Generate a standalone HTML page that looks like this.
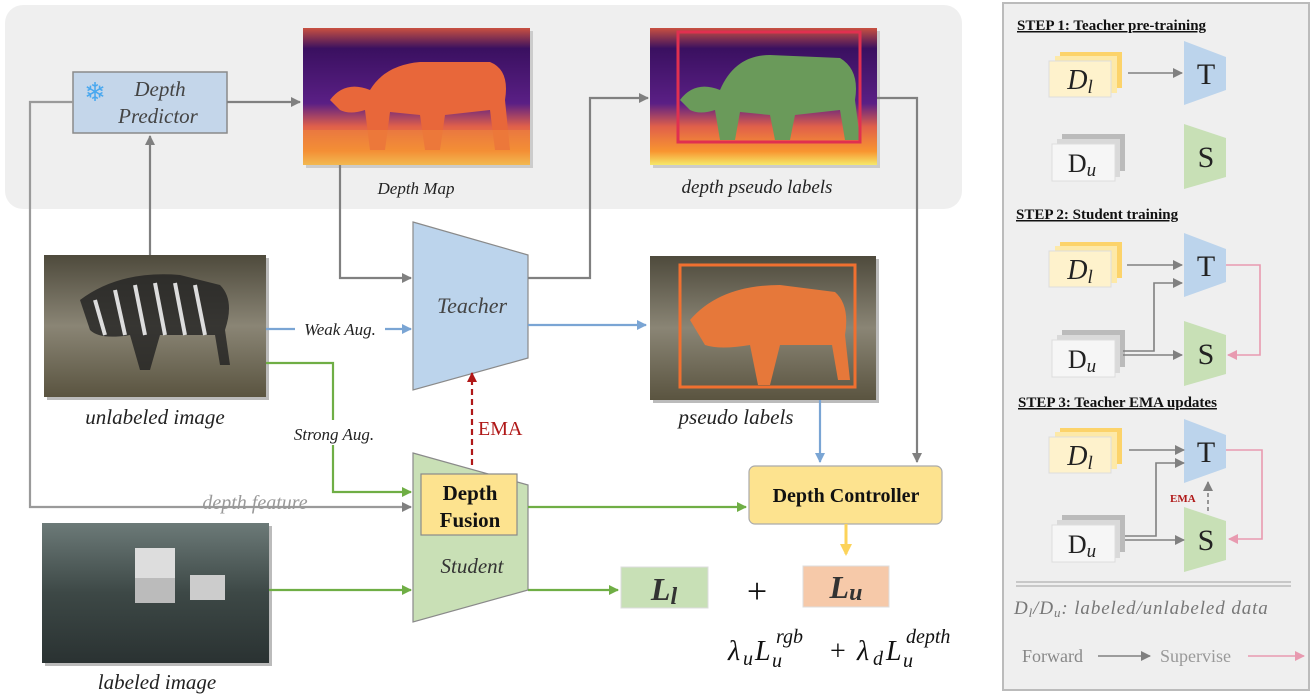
<!DOCTYPE html>
<html><head><meta charset="utf-8"><style>html,body{margin:0;padding:0;background:#fff}svg{display:block}</style></head><body>
<svg width="1316" height="697" viewBox="0 0 1316 697" xmlns="http://www.w3.org/2000/svg" font-family="Liberation Serif, serif">
<defs>
<marker id="ag" markerWidth="10" markerHeight="10" refX="9" refY="5" orient="auto" markerUnits="userSpaceOnUse"><path d="M0,0 L10,5 L0,10z" fill="#808080"/></marker>
<marker id="ab" markerWidth="10" markerHeight="10" refX="9" refY="5" orient="auto" markerUnits="userSpaceOnUse"><path d="M0,0 L10,5 L0,10z" fill="#7aa5d4"/></marker>
<marker id="agr" markerWidth="10" markerHeight="10" refX="9" refY="5" orient="auto" markerUnits="userSpaceOnUse"><path d="M0,0 L10,5 L0,10z" fill="#6fae45"/></marker>
<marker id="ar" markerWidth="10" markerHeight="10" refX="9" refY="5" orient="auto" markerUnits="userSpaceOnUse"><path d="M0,0 L10,5 L0,10z" fill="#b01818"/></marker>
<marker id="ay" markerWidth="12" markerHeight="12" refX="10" refY="6" orient="auto" markerUnits="userSpaceOnUse"><path d="M0,0 L12,6 L0,12z" fill="#fcd35a"/></marker>
<marker id="ap" markerWidth="10" markerHeight="10" refX="9" refY="5" orient="auto" markerUnits="userSpaceOnUse"><path d="M0,0 L10,5 L0,10z" fill="#e89ab0"/></marker>
<linearGradient id="dm" x1="0" y1="0" x2="0" y2="1"><stop offset="0" stop-color="#c85040"/><stop offset="0.15" stop-color="#3a1060"/><stop offset="0.55" stop-color="#5a1f85"/><stop offset="0.72" stop-color="#e0604a"/><stop offset="0.9" stop-color="#f89530"/><stop offset="1" stop-color="#f5e86a"/></linearGradient>
<linearGradient id="zb" x1="0" y1="0" x2="0" y2="1"><stop offset="0" stop-color="#4e4a3c"/><stop offset="0.5" stop-color="#8a8575"/><stop offset="1" stop-color="#5a5440"/></linearGradient>
<linearGradient id="ct" x1="0" y1="0" x2="0" y2="1"><stop offset="0" stop-color="#6c7a78"/><stop offset="0.5" stop-color="#3d4846"/><stop offset="1" stop-color="#2a3232"/></linearGradient>
</defs>
<rect x="5" y="5" width="957" height="204" rx="18" fill="#efefef"/>
<rect x="73" y="72" width="154" height="61" fill="#c4d6ea" stroke="#8a8a8a" stroke-width="1.5"/>
<text x="95" y="101" font-size="26" fill="#4aa8ef" text-anchor="middle">❄</text>
<text x="160" y="96" font-size="21" font-style="italic" fill="#444" text-anchor="middle">Depth</text>
<text x="158" y="123" font-size="21" font-style="italic" fill="#444" text-anchor="middle">Predictor</text>
<rect x="306" y="31" width="227" height="137" fill="#ccc"/>
<rect x="303" y="28" width="227" height="137" fill="url(#dm)"/>
<path d="M330,100 Q345,80 370,90 Q385,65 420,62 L490,62 Q510,70 505,100 L510,150 L495,150 L490,110 L445,115 L440,150 L425,150 L420,115 L390,112 L385,150 L370,150 L365,110 Q350,115 340,110z" fill="#e8673a"/>
<rect x="303" y="130" width="227" height="35" fill="#f08a3a" opacity="0.5"/>
<text x="416" y="194" font-size="17" font-style="italic" fill="#222" text-anchor="middle">Depth Map</text>
<rect x="653" y="31" width="227" height="137" fill="#ccc"/>
<rect x="650" y="28" width="227" height="137" fill="url(#dm)"/>
<path d="M680,100 Q695,80 720,90 Q735,55 770,55 L840,58 Q860,70 855,100 L860,140 L845,140 L840,110 L795,115 L790,140 L775,140 L770,115 L740,112 L735,140 L720,140 L715,110 Q700,115 690,110z" fill="#6a9a5a"/>
<rect x="678" y="32" width="182" height="110" fill="none" stroke="#e03050" stroke-width="3"/>
<text x="757" y="193" font-size="19" font-style="italic" fill="#222" text-anchor="middle">depth pseudo labels</text>
<polygon points="413,222 528,255 528,358 413,390" fill="#bcd4ec" stroke="#8a8a8a" stroke-width="1.2"/>
<text x="472" y="313" font-size="22" font-style="italic" fill="#444" text-anchor="middle">Teacher</text>
<rect x="47" y="258" width="222" height="142" fill="#bbb"/>
<rect x="44" y="255" width="222" height="142" fill="url(#zb)"/>
<path d="M80,300 Q120,270 180,275 L220,285 Q235,300 225,330 L230,365 L220,365 L215,335 L160,335 L150,370 L140,370 L130,335 Q100,340 90,330z" fill="#222" opacity="0.8"/>
<path d="M95,300 L105,335 M115,290 L125,335 M135,285 L145,335 M155,283 L165,335 M175,283 L185,335 M195,285 L205,335" stroke="#ddd" stroke-width="4"/>
<text x="155" y="424" font-size="21" font-style="italic" fill="#222" text-anchor="middle">unlabeled image</text>
<rect x="653" y="259" width="226" height="144" fill="#bbb"/>
<rect x="650" y="256" width="226" height="144" fill="url(#zb)"/>
<path d="M690,320 Q720,285 780,285 L835,292 Q850,305 845,335 L850,380 L838,380 L832,345 L780,345 L770,385 L758,385 L750,345 Q720,350 705,345z" fill="#e6783a"/>
<rect x="680" y="265" width="175" height="122" fill="none" stroke="#f07030" stroke-width="3"/>
<text x="736" y="424" font-size="21" font-style="italic" fill="#222" text-anchor="middle">pseudo labels</text>
<polygon points="413,453 528,485 528,590 413,622" fill="#c9e0b6" stroke="#8a8a8a" stroke-width="1.2"/>
<rect x="421" y="474" width="96" height="61" fill="#fde38f" stroke="#8a8a8a" stroke-width="1.2"/>
<text x="470" y="500" font-size="21" font-weight="bold" fill="#111" text-anchor="middle">Depth</text>
<text x="470" y="527" font-size="21" font-weight="bold" fill="#111" text-anchor="middle">Fusion</text>
<text x="472" y="573" font-size="21" font-style="italic" fill="#333" text-anchor="middle">Student</text>
<rect x="45" y="526" width="227" height="140" fill="#bbb"/>
<rect x="42" y="523" width="227" height="140" fill="url(#ct)"/>
<rect x="135" y="548" width="40" height="30" fill="#ddd"/>
<rect x="135" y="578" width="40" height="25" fill="#bbb"/>
<rect x="190" y="575" width="35" height="25" fill="#ccc"/>
<text x="157" y="689" font-size="21" font-style="italic" fill="#222" text-anchor="middle">labeled image</text>
<rect x="749" y="466" width="193" height="58" rx="6" fill="#fde38f" stroke="#aaa" stroke-width="1.2"/>
<text x="846" y="502" font-size="20" font-weight="bold" fill="#111" text-anchor="middle">Depth Controller</text>
<rect x="621" y="567" width="87" height="41" fill="#c8e0b6" stroke="#ddd"/>
<text x="664" y="600" font-size="32" font-weight="bold" font-style="italic" fill="#333" text-anchor="middle">L<tspan font-size="24" dy="4">l</tspan></text>
<rect x="803" y="566" width="86" height="41" fill="#f6c9a9" stroke="#ddd"/>
<text x="846" y="598" font-size="32" font-weight="bold" font-style="italic" fill="#333" text-anchor="middle">L<tspan font-size="24" dy="2">u</tspan></text>
<text x="757" y="603" font-size="36" fill="#111" text-anchor="middle">+</text>
<g font-style="italic" fill="#111">
<text x="728" y="660" font-size="28">λ</text>
<text x="743" y="665" font-size="20">u</text>
<text x="755" y="660" font-size="28">L</text>
<text x="772" y="667" font-size="20">u</text>
<text x="776" y="643" font-size="20">rgb</text>
<text x="830" y="660" font-size="28" font-style="normal">+</text>
<text x="857" y="660" font-size="28">λ</text>
<text x="873" y="665" font-size="20">d</text>
<text x="886" y="660" font-size="28">L</text>
<text x="903" y="667" font-size="20">u</text>
<text x="906" y="643" font-size="20">depth</text>
</g>
<g fill="none" stroke-width="2.2">
<path d="M73,102 H30 V507 H411" stroke="#9a9a9a" marker-end="url(#ag)"/>
<path d="M227,102 H300" stroke="#808080" marker-end="url(#ag)"/>
<path d="M150,255 V136" stroke="#808080" marker-end="url(#ag)"/>
<path d="M340,165 V278 H411" stroke="#808080" marker-end="url(#ag)"/>
<path d="M528,278 H590 V98 H648" stroke="#808080" marker-end="url(#ag)"/>
<path d="M877,98 H917 V462" stroke="#808080" marker-end="url(#ag)"/>
<path d="M266,329 H295 M385,329 H411" stroke="#7aa5d4" marker-end="url(#ab)"/>
<path d="M528,325 H646" stroke="#7aa5d4" marker-end="url(#ab)"/>
<path d="M820,400 V462" stroke="#7aa5d4" marker-end="url(#ab)"/>
<path d="M266,363 H333 V420 M333,445 V492 H411" stroke="#6fae45" marker-end="url(#agr)"/>
<path d="M528,507 H746" stroke="#6fae45" marker-end="url(#agr)"/>
<path d="M269,590 H411" stroke="#6fae45" marker-end="url(#agr)"/>
<path d="M528,590 H618" stroke="#6fae45" marker-end="url(#agr)"/>
<path d="M472,465 V373" stroke="#b01818" stroke-dasharray="6,4" marker-end="url(#ar)"/>
<path d="M846,524 V554" stroke="#fcd35a" stroke-width="3" marker-end="url(#ay)"/>
</g>
<text x="340" y="335" font-size="17" font-style="italic" fill="#222" text-anchor="middle">Weak Aug.</text>
<text x="334" y="440" font-size="17" font-style="italic" fill="#222" text-anchor="middle">Strong Aug.</text>
<text x="255" y="509" font-size="20" font-style="italic" fill="#999" text-anchor="middle">depth feature</text>
<text x="478" y="435" font-size="20" fill="#b01818">EMA</text>
<rect x="1003" y="3" width="306" height="687" fill="#efefef" stroke="#bbb" stroke-width="2"/>
<g font-size="15" font-weight="bold" fill="#111" text-decoration="underline">
<text x="1017" y="30">STEP 1: Teacher pre-training</text>
<text x="1016" y="219">STEP 2: Student training</text>
<text x="1018" y="407">STEP 3: Teacher EMA updates</text>
</g>
<g id="dl">
<rect x="1060" y="52" width="62" height="36" fill="#fcd36a"/>
<rect x="1055" y="56" width="62" height="37" fill="#fde9a8"/>
<rect x="1049" y="61" width="62" height="36" fill="#fef2cc" stroke="#ddd"/>
<text x="1080" y="89" font-size="28" font-style="italic" fill="#222" text-anchor="middle">D<tspan font-size="19" dy="4">l</tspan></text>
</g>
<use href="#dl" y="190"/><use href="#dl" y="376"/>
<g id="du">
<rect x="1062" y="134" width="63" height="37" fill="#bbb"/>
<rect x="1057" y="139" width="63" height="38" fill="#d9d9d9"/>
<rect x="1052" y="144" width="63" height="37" fill="#f6f6f6" stroke="#ddd"/>
<text x="1082" y="172" font-size="26" fill="#222" text-anchor="middle">D<tspan font-size="19" font-style="italic" dy="4">u</tspan></text>
</g>
<use href="#du" y="196"/><use href="#du" y="381"/>
<g id="tt"><polygon points="1184,41 1226,57 1226,90 1184,105" fill="#bcd4ec"/><text x="1206" y="84" font-size="30" fill="#222" text-anchor="middle">T</text></g>
<use href="#tt" y="192"/><use href="#tt" y="378"/>
<g id="ss"><polygon points="1184,124 1226,138 1226,177 1184,189" fill="#c8e0b6"/><text x="1206" y="167" font-size="30" fill="#222" text-anchor="middle">S</text></g>
<use href="#ss" y="197"/><use href="#ss" y="383"/>
<g fill="none" stroke="#808080" stroke-width="1.6">
<path d="M1128,73 H1182" marker-end="url(#ag)"/>
<path d="M1127,265 H1182" marker-end="url(#ag)"/>
<path d="M1123,351 H1154 V283 H1182" marker-end="url(#ag)"/>
<path d="M1123,355 H1182" marker-end="url(#ag)"/>
<path d="M1129,450 H1184" marker-end="url(#ag)"/>
<path d="M1125,536 H1156 V463 H1184" marker-end="url(#ag)"/>
<path d="M1125,540 H1184" marker-end="url(#ag)"/>
<path d="M1208,511 V482" stroke-dasharray="4,3" marker-end="url(#ag)"/>
<path d="M1098,656 H1150" marker-end="url(#ag)"/>
</g>
<g fill="none" stroke="#e89ab0" stroke-width="1.6">
<path d="M1226,265 H1260 V355 H1228" marker-end="url(#ap)"/>
<path d="M1226,450 H1262 V539 H1229" marker-end="url(#ap)"/>
<path d="M1248,656 H1304" marker-end="url(#ap)"/>
</g>
<text x="1170" y="502" font-size="11" font-weight="bold" fill="#b01818">EMA</text>
<path d="M1016,582 H1291 M1016,586 H1291" stroke="#bbb" stroke-width="1.5"/>
<text x="1014" y="614" font-size="19" font-style="italic" fill="#777" letter-spacing="0.9">D<tspan font-size="13" dy="3">l</tspan><tspan dy="-3">/D</tspan><tspan font-size="13" dy="3">u</tspan><tspan dy="-3">: labeled/unlabeled data</tspan></text>
<text x="1022" y="662" font-size="18" fill="#888">Forward</text>
<text x="1160" y="662" font-size="18" fill="#999">Supervise</text>
</svg>
</body></html>
